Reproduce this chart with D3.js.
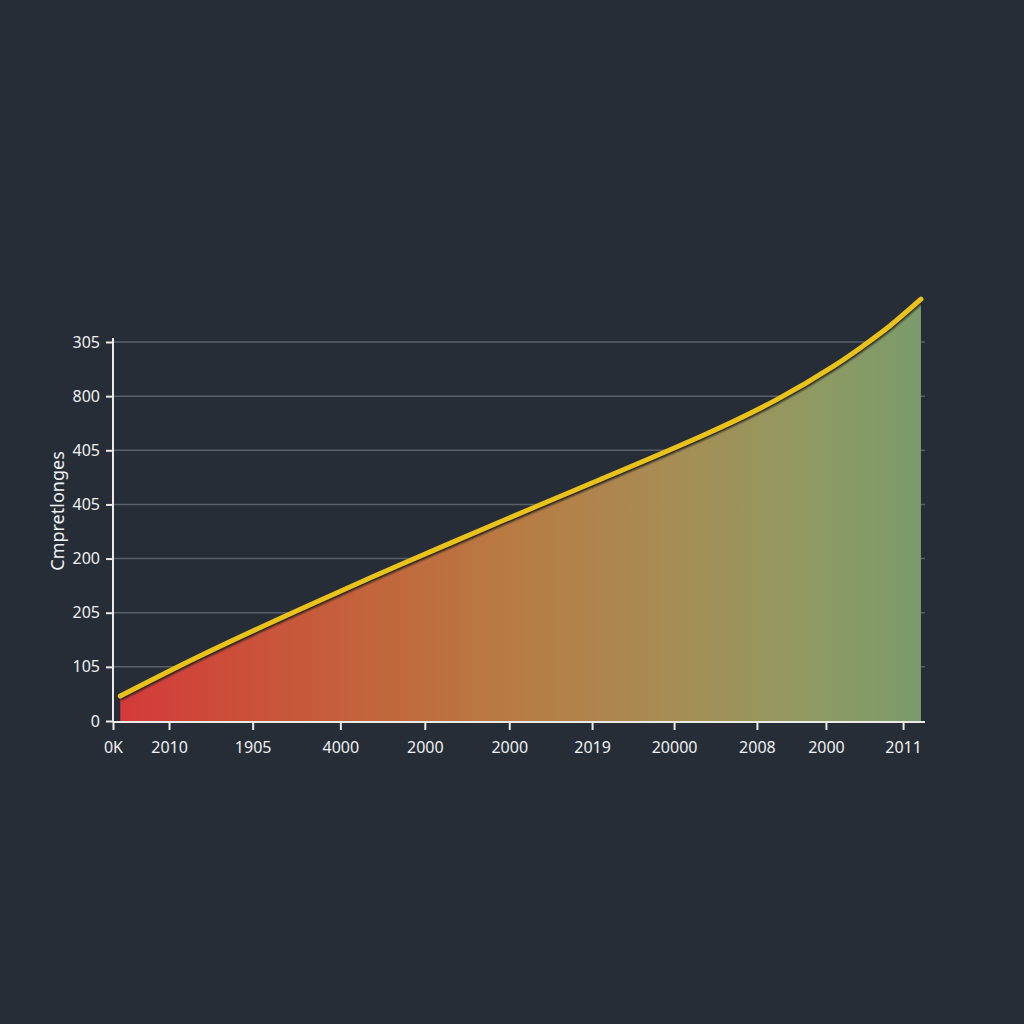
<!DOCTYPE html>
<html>
<head>
<meta charset="utf-8">
<script src="https://cdn.jsdelivr.net/npm/d3@7"></script>
<style>
  html, body { margin: 0; padding: 0; background: #262d36; }
  svg { display: block; }
</style>
</head>
<body>
<svg id="chart" width="1024" height="1024"></svg>
<script>
// data
const xValues = [0.09, 1.07, 2.30, 3.53, 4.77, 6.00, 7.23, 8.18, 8.87, 9.24, 9.57, 9.95]
const yValues = [0.46, 1.20, 2.06, 2.88, 3.68, 4.46, 5.25, 5.94, 6.55, 6.93, 7.30, 7.79]

const xTickValues = [0, 0.69, 1.72, 2.80, 3.84, 4.88, 5.90, 6.91, 7.93, 8.78, 9.73]
const xTickLabels = ['0K', '2010', '1905', '4000', '2000', '2000', '2019', '20000', '2008', '2000', '2011']

const yTickValues = [0, 1, 2, 3, 4, 5, 6, 7]
const yTickLabels = ['0', '105', '205', '200', '405', '405', '800', '305']

const yTitle = 'Cmpretlonges'

const svg = d3.select('#chart')
const font = "'Noto Sans', Inter, sans-serif"

const x = d3.scaleLinear().domain([0, 10]).range([113, 925])
const y = d3.scaleLinear().domain([0, 7]).range([721, 342])

// gradient for the area
const defs = svg.append('defs')
const grad = defs.append('linearGradient')
  .attr('id', 'areaGrad')
  .attr('gradientUnits', 'userSpaceOnUse')
  .attr('x1', x(0)).attr('x2', x(10)).attr('y1', 0).attr('y2', 0)
const stops = [
  [0, '#d4393a'],
  [0.25, '#c65c3a'],
  [0.48, '#b97a42'],
  [0.7, '#a58e56'],
  [0.87, '#8e9a62'],
  [1, '#7b9b6c']
]
stops.forEach(s => grad.append('stop').attr('offset', s[0]).attr('stop-color', s[1]))

const shadow = defs.append('filter').attr('id', 'blur')
shadow.append('feGaussianBlur').attr('stdDeviation', 1)

// grid lines
svg.append('g')
  .selectAll('line')
  .data(yTickValues.slice(1))
  .enter().append('line')
  .attr('x1', x(0)).attr('x2', x(10))
  .attr('y1', d => y(d)).attr('y2', d => y(d))
  .attr('stroke', '#58606a')
  .attr('stroke-width', 1.5)

const pts = xValues.map((v, i) => [v, yValues[i]])

const area = d3.area()
  .x(d => x(d[0]))
  .y0(y(0))
  .y1(d => y(d[1]))
  .curve(d3.curveNatural)

svg.append('path')
  .datum(pts)
  .attr('d', area)
  .attr('fill', 'url(#areaGrad)')

const line = d3.line()
  .x(d => x(d[0]))
  .y(d => y(d[1]))
  .curve(d3.curveNatural)

// dark edge under the yellow line
svg.append('path')
  .datum(pts)
  .attr('d', line)
  .attr('transform', 'translate(0,2)')
  .attr('fill', 'none')
  .attr('stroke', '#1c1d1c')
  .attr('stroke-width', 5)
  .attr('filter', 'url(#blur)')

svg.append('path')
  .datum(pts)
  .attr('d', line)
  .attr('fill', 'none')
  .attr('stroke', '#e9c21c')
  .attr('stroke-width', 5)
  .attr('stroke-linecap', 'round')

// axes
const xAxis = d3.axisBottom(x)
  .tickValues(xTickValues)
  .tickFormat((d, i) => xTickLabels[i])
  .tickSize(8)
  .tickPadding(12)

const yAxis = d3.axisLeft(y)
  .tickValues(yTickValues)
  .tickFormat((d, i) => yTickLabels[i])
  .tickSize(7)
  .tickPadding(6)

const gx = svg.append('g')
  .attr('transform', `translate(0,${y(0) + 1})`)
  .call(xAxis)
gx.select('.domain').attr('d', `M${x(0)},0H${x(10)}`)

const gy = svg.append('g')
  .attr('transform', `translate(${x(0)},0)`)
  .call(yAxis)
gy.select('.domain').attr('d', `M0,${y(0) + 1}V${y(7) - 4}`)

svg.selectAll('.domain').attr('stroke', '#eceae6').attr('stroke-width', 2)
svg.selectAll('.tick line').attr('stroke', '#eceae6').attr('stroke-width', 2)
svg.selectAll('.tick text')
  .attr('fill', '#eef0f2')
  .style('font-family', font)
  .style('font-size', '16px')

svg.append('text')
  .attr('transform', `translate(64,511) rotate(-90)`)
  .attr('text-anchor', 'middle')
  .attr('fill', '#eef0f2')
  .style('font-family', font)
  .style('font-size', '18px')
  .text(yTitle)
</script>
</body>
</html>
